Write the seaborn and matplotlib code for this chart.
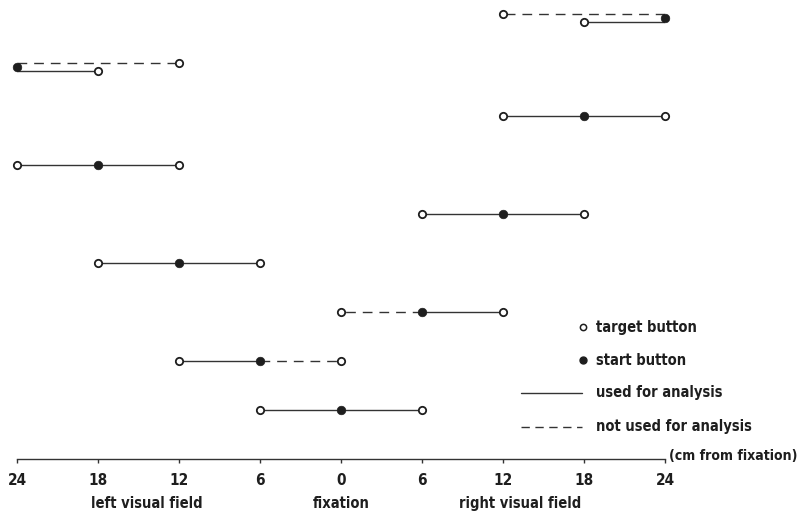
import matplotlib
matplotlib.use('Agg')
import matplotlib.pyplot as plt
import seaborn as sns
import pandas as pd

# one trial layout per row, row 1 at the bottom, row 9 at the top
rows = [9, 8, 7, 6, 5, 4, 3, 2, 1]
start_cm = [24, -24, 18, -18, 12, -12, 6, -6, 0]
target_a_cm = [12, -12, 12, -24, 6, -18, 0, -12, -6]
target_b_cm = [18, -18, 24, -12, 18, -6, 12, 0, 6]
target_a_used = [False, False, True, True, True, True, False, True, True]
target_b_used = [True, True, True, True, True, True, True, False, True]

tick_cm = [-24, -18, -12, -6, 0, 6, 12, 18, 24]
tick_labels = ['24', '18', '12', '6', '0', '6', '12', '18', '24']
field_labels = ['left visual field', 'fixation', 'right visual field']
legend_labels = ['target button', 'start button', 'used for analysis', 'not used for analysis']

# build segments start -> target
segs, targets = [], []
seg_id = 0
for r, s, ta, tb, ua, ub in zip(rows, start_cm, target_a_cm, target_b_cm,
                                target_a_used, target_b_used):
    same_side = (ta - s) * (tb - s) > 0
    for t, u in ((ta, ua), (tb, ub)):
        yy = r
        if same_side:
            # two targets on the same side: dashed one drawn above, solid below
            yy = r + 0.09 if not u else r - 0.07
        kind = 'used' if u else 'not used'
        segs.append({'seg': seg_id, 'x': s, 'y': yy, 'kind': kind})
        segs.append({'seg': seg_id, 'x': t, 'y': yy, 'kind': kind})
        targets.append({'x': t, 'y': yy})
        seg_id += 1

seg_df = pd.DataFrame(segs)
target_df = pd.DataFrame(targets)
start_df = pd.DataFrame({'x': start_cm, 'y': rows})

sns.set_style('white')
plt.rcParams['font.family'] = ['DejaVu Sans']
plt.rcParams['font.stretch'] = 'condensed'
plt.rcParams['font.weight'] = 'bold'
ink = '#1e1e1e'
line_c = '#333333'

fig = plt.figure(figsize=(8.03, 5.13), dpi=100)
ax = fig.add_axes([0.0212, 0.1053, 0.807, 0.888])

# Create the plot
sns.lineplot(data=seg_df, x='x', y='y', units='seg', estimator=None,
             style='kind', style_order=['used', 'not used'],
             dashes={'used': '', 'not used': (7, 5)},
             color=line_c, lw=1.0, sort=False, legend=False, ax=ax)
sns.scatterplot(data=target_df, x='x', y='y', s=28, color='white',
                edgecolor=ink, linewidth=1.3, zorder=3, clip_on=False, ax=ax)
sns.scatterplot(data=start_df, x='x', y='y', s=38, color=ink,
                edgecolor=ink, linewidth=0.5, zorder=4, clip_on=False, ax=ax)

# axes
ax.set_xlim(-24, 24)
ax.set_ylim(0, 9.3)
ax.set_yticks([])
ax.set_xlabel('')
ax.set_ylabel('')
for side in ['top', 'left', 'right']:
    ax.spines[side].set_visible(False)
ax.spines['bottom'].set_color(line_c)
ax.spines['bottom'].set_linewidth(1.0)
ax.set_xticks(tick_cm)
ax.set_xticklabels(tick_labels)
ax.tick_params(axis='x', bottom=True, direction='out', length=3, width=1,
               color=line_c, pad=7, labelsize=11, labelcolor=ink)

# field labels under the ticks
for xc, txt in zip([-14.4, 0, 13.3], field_labels):
    ax.annotate(txt, xy=(xc, 0), xycoords='data', xytext=(0, -32),
                textcoords='offset points', ha='center', va='center',
                fontsize=10.5, color=ink, annotation_clip=False)
ax.annotate('(cm from fixation)', xy=(24, 0), xycoords='data', xytext=(3, 2),
            textcoords='offset points', ha='left', va='center',
            fontsize=10.1, color=ink, annotation_clip=False)

# legend drawn by hand
ax.plot([17.9], [2.69], 'o', ms=4.5, mfc='white', mec=ink, mew=1.1, clip_on=False)
ax.plot([17.9], [2.02], 'o', ms=5, mfc=ink, mec=ink, clip_on=False)
ax.plot([13.3, 17.85], [1.35, 1.35], '-', color=line_c, lw=1.0)
ax.plot([13.3, 17.85], [0.66, 0.66], color=line_c, lw=1.0, dashes=(6, 4))
for yy, txt in zip([2.69, 2.02, 1.35, 0.66], legend_labels):
    ax.text(18.85, yy, txt, ha='left', va='center', fontsize=10.5, color=ink)

fig.savefig('out.png', dpi=100)
